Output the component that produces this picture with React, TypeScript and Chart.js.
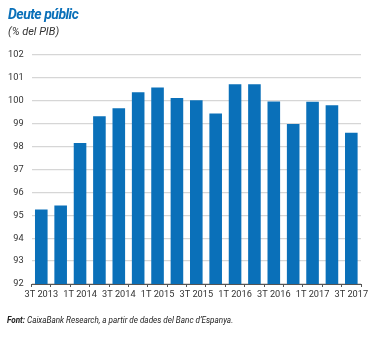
import React, { useEffect, useRef } from "react";
import { Chart, registerables } from "chart.js";

Chart.register(...registerables);

const categories = [
  "3T 2013", "4T 2013",
  "1T 2014", "2T 2014", "3T 2014", "4T 2014",
  "1T 2015", "2T 2015", "3T 2015", "4T 2015",
  "1T 2016", "2T 2016", "3T 2016", "4T 2016",
  "1T 2017", "2T 2017", "3T 2017",
];
const debtValues = [
  95.25, 95.43,
  98.16, 99.32, 99.67, 100.37,
  100.58, 100.12, 100.02, 99.45,
  100.72, 100.72, 99.97, 98.99,
  99.96, 99.81, 98.6,
];
const yMin = 92;
const yMax = 102;

const titleText = "Deute públic";
const subtitleText = "(% del PIB)";
const footerLabel = "Font:";
const footerText = " CaixaBank Research, a partir de dades del Banc d’Espanya.";

const BLUE = "#0a70b9";
const FONT = "Roboto, 'Noto Sans', sans-serif";

export default function App() {
  const ref = useRef<HTMLCanvasElement | null>(null);

  useEffect(() => {
    if (!ref.current) return;
    const chart = new Chart(ref.current, {
      type: "bar",
      data: {
        labels: categories,
        datasets: [
          {
            data: debtValues,
            backgroundColor: BLUE,
            borderWidth: 0,
            categoryPercentage: 1,
            barPercentage: 0.65,
          },
        ],
      },
      options: {
        responsive: false,
        animation: false,
        devicePixelRatio: 1,
        layout: { padding: { top: 55, right: 14, bottom: 14, left: 0 } },
        plugins: {
          legend: { display: false },
          tooltip: { enabled: false },
        },
        scales: {
          x: {
            afterFit: (s: any) => {
              s.height = 40;
            },
            grid: {
              display: true,
              drawOnChartArea: false,
              drawTicks: true,
              tickLength: 3,
              offset: true,
              color: "#555",
            },
            border: { display: true, color: "#555", width: 1 },
            ticks: {
              autoSkip: false,
              maxRotation: 0,
              padding: 2,
              color: "#333",
              font: { family: FONT, size: 9.2 },
              callback: (_v: any, i: number) => (i % 2 === 0 ? categories[i] : ""),
            },
          },
          y: {
            min: yMin,
            max: yMax,
            afterFit: (s: any) => {
              s.width = 31.6;
            },
            grid: {
              color: "#d6d6d6",
              lineWidth: 1.3,
              drawTicks: false,
            },
            border: { display: false },
            ticks: {
              stepSize: 1,
              padding: 8,
              color: "#333",
              font: { family: FONT, size: 9.2 },
            },
          },
        },
      },
    });
    return () => chart.destroy();
  }, []);

  return (
    <div
      style={{
        position: "fixed",
        left: 0,
        top: 0,
        width: 375,
        height: 338,
        background: "#fff",
        fontFamily: FONT,
      }}
    >
      <canvas
        ref={ref}
        width={375}
        height={338}
        style={{ position: "absolute", left: 0, top: 0, width: 375, height: 338 }}
      />
      <div
        style={{
          position: "absolute",
          left: 8,
          top: 6,
          fontSize: 14,
          lineHeight: "16px",
          fontWeight: 700,
          fontStyle: "italic",
          letterSpacing: -0.5,
          color: BLUE,
          whiteSpace: "nowrap",
        }}
      >
        {titleText}
      </div>
      <div
        style={{
          position: "absolute",
          left: 8,
          top: 25,
          fontSize: 11,
          lineHeight: "13px",
          fontStyle: "italic",
          color: "#333",
          whiteSpace: "nowrap",
        }}
      >
        {subtitleText}
      </div>
      <div
        style={{
          position: "absolute",
          left: 7,
          top: 315,
          fontSize: 8.15,
          lineHeight: "10px",
          fontStyle: "italic",
          color: "#222",
          whiteSpace: "nowrap",
        }}
      >
        <b>{footerLabel}</b>
        {footerText}
      </div>
    </div>
  );
}
